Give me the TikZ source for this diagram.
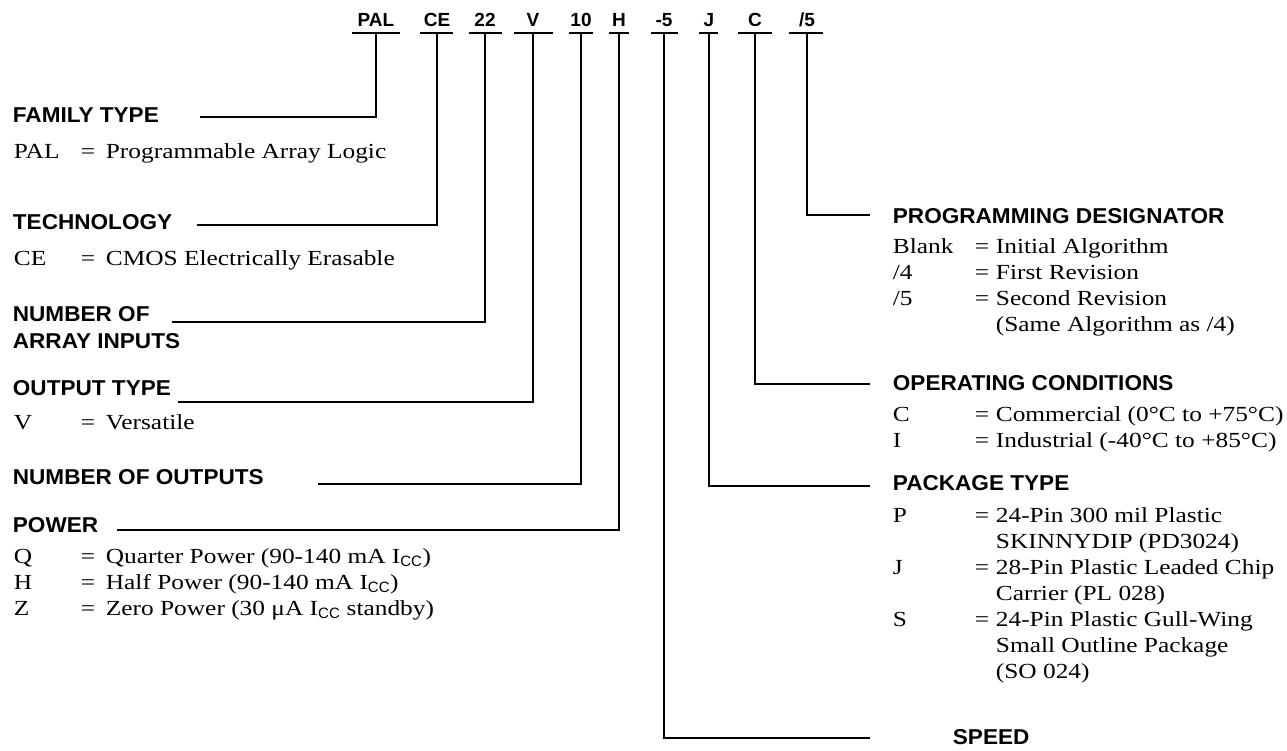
\documentclass[tikz,border=0pt]{standalone}
\usepackage{fontspec}
\setmainfont{Liberation Serif}[FakeStretch=1.18]
\newfontfamily\hdfont{Liberation Sans}
\newfontfamily\hdwide{Liberation Sans}[FakeStretch=1.05]
\newcommand{\cc}{\textsubscript{\hdfont\fontsize{15}{15}\selectfont CC}}
\begin{document}
\begin{tikzpicture}[x=1pt,y=-1pt,line width=1.8pt,
  codelbl/.style={font=\fontsize{19}{19}\hdfont\bfseries,anchor=base,inner sep=0pt},
  head/.style={font=\fontsize{21.5}{27}\hdwide\bfseries,anchor=west,inner sep=0pt,align=left},
  body/.style={font=\fontsize{21.5}{26}\selectfont,anchor=north west,inner sep=0pt}]
\useasboundingbox (0,0) rectangle (1287,751);
% header codes
\foreach \nm/\t/\x/\a/\b in {pal/{PAL}/376/352/400, ce/{CE}/437/420/453, n22/{22}/485/469/502, v/{V}/533/514/553, n10/{10}/581/569/593, h/{H}/619/609/629, s5/{-5}/664/651/678, j/{J}/709/699/718, c/{C}/755/738/772, p5/{/5}/807/789/823}{
  \node[codelbl] (\nm) at (\x,27) {\t};
  \coordinate (\nm L) at (\a,33);
  \coordinate (\nm R) at (\b,33);
  \coordinate (\nm U) at (\x,33);
  \draw (\nm L) -- (\nm R);
}
% left headings
\node[head] (fam) at (12,115) {FAMILY TYPE};
\node[head] (tech) at (12,222) {TECHNOLOGY};
\node[head] (nai) at (12,327.5) {NUMBER OF\\ARRAY INPUTS};
\node[head] (ot) at (12,388) {OUTPUT TYPE};
\node[head] (no) at (12,477) {NUMBER OF OUTPUTS};
\node[head] (pw) at (12,525) {POWER};
% right headings
\node[head] (pd) at (892,216) {PROGRAMMING DESIGNATOR};
\node[head] (oc) at (892,383) {OPERATING CONDITIONS};
\node[head] (pk) at (892,483) {PACKAGE TYPE};
\node[head] (sp) at (952,737) {SPEED};
% connector ends
\coordinate (famE) at (200,117);
\coordinate (techE) at (197,225);
\coordinate (naiE) at (172,322);
\coordinate (otE) at (178,402);
\coordinate (noE) at (318,484);
\coordinate (pwE) at (117,530);
\coordinate (pdE) at (870,215);
\coordinate (ocE) at (870,384);
\coordinate (pkE) at (870,486);
\coordinate (spE) at (870,738);
\draw (palU) |- (famE);
\draw (ceU) |- (techE);
\draw (n22U) |- (naiE);
\draw (vU) |- (otE);
\draw (n10U) |- (noE);
\draw (hU) |- (pwE);
\draw (p5U) |- (pdE);
\draw (cU) |- (ocE);
\draw (jU) |- (pkE);
\draw (s5U) |- (spE);
% bodies
\node[body] (famb) at (13,139) {\begin{tabular}{@{}p{67pt}@{}p{25pt}@{}l@{}}
PAL & = & Programmable Array Logic\end{tabular}};
\node[body] (techb) at (13,246) {\begin{tabular}{@{}p{67pt}@{}p{25pt}@{}l@{}}
CE & = & CMOS Electrically Erasable\end{tabular}};
\node[body] (otb) at (13,410) {\begin{tabular}{@{}p{67pt}@{}p{25pt}@{}l@{}}
V & = & Versatile\end{tabular}};
\node[body] (pwb) at (13,544) {\begin{tabular}{@{}p{67pt}@{}p{25pt}@{}l@{}}
Q & = & Quarter Power (90-140 mA I\cc)\\
H & = & Half Power (90-140 mA I\cc)\\
Z & = & Zero Power (30 μA I\cc{} standby)\end{tabular}};
\node[body] (pdb) at (892,234) {\begin{tabular}{@{}p{82pt}@{}p{21pt}@{}l@{}}
Blank & = & Initial Algorithm\\
/4 & = & First Revision\\
/5 & = & Second Revision\\
 & & (Same Algorithm as /4)\end{tabular}};
\node[body] (ocb) at (892,402) {\begin{tabular}{@{}p{82pt}@{}p{21pt}@{}l@{}}
C & = & Commercial (0°C to +75°C)\\
I & = & Industrial (-40°C to +85°C)\end{tabular}};
\node[body] (pkb) at (892,503) {\begin{tabular}{@{}p{82pt}@{}p{21pt}@{}l@{}}
P & = & 24-Pin 300 mil Plastic\\
 & & SKINNYDIP (PD3024)\\
J & = & 28-Pin Plastic Leaded Chip\\
 & & Carrier (PL 028)\\
S & = & 24-Pin Plastic Gull-Wing\\
 & & Small Outline Package\\
 & & (SO 024)\end{tabular}};
\end{tikzpicture}
\end{document}
